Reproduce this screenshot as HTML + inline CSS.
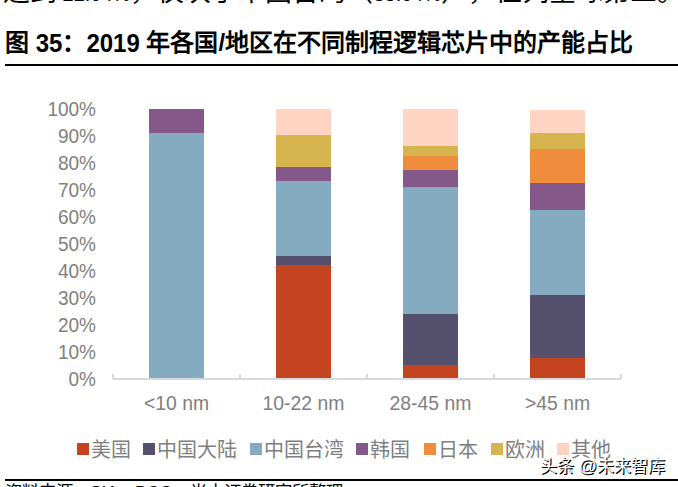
<!DOCTYPE html>
<html lang="zh-CN"><head><meta charset="utf-8">
<style>
html,body{margin:0;padding:0;background:#fff;}
body{width:678px;height:487px;position:relative;overflow:hidden;font-family:"Liberation Sans",sans-serif;}
.a{position:absolute;}
.top{left:3px;top:-21px;font-size:27px;color:#000;white-space:nowrap;line-height:26px;text-spacing-trim:space-all;}
.n{font-size:20px;}
.d{display:inline-block;transform:scaleY(1.1);transform-origin:50% 55%;}
.title{left:5px;top:27.6px;font-size:24px;font-weight:bold;color:#000;white-space:nowrap;line-height:30px;}
.rule{left:5px;width:673px;height:2px;background:#000;}
.yl{right:582px;font-size:19px;color:#7f7f7f;line-height:20px;text-align:right;white-space:nowrap;transform:scaleY(1.1);transform-origin:50% 50%;}
.xl{width:127px;font-size:19.4px;color:#7f7f7f;line-height:22px;text-align:center;white-space:nowrap;transform:scaleY(1.07);transform-origin:50% 50%;}
.b{width:55px;}
.us{background:#c4441f}
.cn{background:#56506f}
.tw{background:#84abbf}
.kr{background:#85588a}
.jp{background:#f08d3c}
.eu{background:#d6b54f}
.ot{background:#ffd4c3}
.axis{left:113px;top:378px;width:508px;height:2px;background:#d9d9d9;}
.tick{top:374px;width:2px;height:5px;background:#d9d9d9;}
.lg{top:443px;width:12px;height:12px;}
.lt{top:438px;font-size:20px;color:#7f7f7f;line-height:24px;white-space:nowrap;}
.wm{left:540px;top:455px;font-size:17px;color:#fff;line-height:22px;white-space:nowrap;text-shadow:1px 1px 0 #000,0.5px 1px 0 #000,0 0 2px #fff,0 0 2px #fff,0 0 3px #fff;}
.src{left:5px;top:480px;font-size:17.4px;color:#000;line-height:24px;white-space:nowrap;}
</style></head><body>
<div class="a top">达到<span class="n"> 22.04%</span>，仅次于中国台湾（<span class="n">38.04%</span>），位列全球第三。</div>
<div class="a title">图 <span class="d">35</span>：<span class="d">2019</span> 年各国/地区在不同制程逻辑芯片中的产能占比</div>
<div class="a rule" style="top:64px"></div>

<div class="a yl" style="top:99px">100%</div>
<div class="a yl" style="top:126px">90%</div>
<div class="a yl" style="top:153px">80%</div>
<div class="a yl" style="top:180px">70%</div>
<div class="a yl" style="top:207px">60%</div>
<div class="a yl" style="top:234px">50%</div>
<div class="a yl" style="top:261px">40%</div>
<div class="a yl" style="top:288px">30%</div>
<div class="a yl" style="top:315px">20%</div>
<div class="a yl" style="top:342px">10%</div>
<div class="a yl" style="top:369px">0%</div>

<!-- bar 1 -->
<div class="a b tw" style="left:149px;top:133px;height:246px"></div>
<div class="a b kr" style="left:149px;top:109px;height:24px"></div>
<!-- bar 2 -->
<div class="a b us" style="left:276px;top:265px;height:114px"></div>
<div class="a b cn" style="left:276px;top:256px;height:9px"></div>
<div class="a b tw" style="left:276px;top:181px;height:75px"></div>
<div class="a b kr" style="left:276px;top:167px;height:14px"></div>
<div class="a b eu" style="left:276px;top:135px;height:32px"></div>
<div class="a b ot" style="left:276px;top:109px;height:26px"></div>
<!-- bar 3 -->
<div class="a b us" style="left:403px;top:365px;height:14px"></div>
<div class="a b cn" style="left:403px;top:314px;height:51px"></div>
<div class="a b tw" style="left:403px;top:187px;height:127px"></div>
<div class="a b kr" style="left:403px;top:170px;height:17px"></div>
<div class="a b jp" style="left:403px;top:156px;height:14px"></div>
<div class="a b eu" style="left:403px;top:146px;height:10px"></div>
<div class="a b ot" style="left:403px;top:109px;height:37px"></div>
<!-- bar 4 -->
<div class="a b us" style="left:530px;top:358px;height:21px"></div>
<div class="a b cn" style="left:530px;top:295px;height:63px"></div>
<div class="a b tw" style="left:530px;top:210px;height:85px"></div>
<div class="a b kr" style="left:530px;top:183px;height:27px"></div>
<div class="a b jp" style="left:530px;top:149px;height:34px"></div>
<div class="a b eu" style="left:530px;top:133px;height:16px"></div>
<div class="a b ot" style="left:530px;top:110px;height:23px"></div>

<div class="a axis"></div>
<div class="a tick" style="left:112px"></div>
<div class="a tick" style="left:239px"></div>
<div class="a tick" style="left:366px"></div>
<div class="a tick" style="left:493px"></div>
<div class="a tick" style="left:620px"></div>

<div class="a xl" style="left:113px;top:392px">&lt;10 nm</div>
<div class="a xl" style="left:240px;top:392px">10-22 nm</div>
<div class="a xl" style="left:367px;top:392px">28-45 nm</div>
<div class="a xl" style="left:494px;top:392px">&gt;45 nm</div>

<div class="a lg us" style="left:77px"></div><div class="a lt" style="left:91px">美国</div>
<div class="a lg cn" style="left:143px"></div><div class="a lt" style="left:157px">中国大陆</div>
<div class="a lg tw" style="left:250px"></div><div class="a lt" style="left:264px">中国台湾</div>
<div class="a lg kr" style="left:356px"></div><div class="a lt" style="left:370px">韩国</div>
<div class="a lg jp" style="left:424px"></div><div class="a lt" style="left:438px">日本</div>
<div class="a lg eu" style="left:491px"></div><div class="a lt" style="left:505px">欧洲</div>
<div class="a lg ot" style="left:557px"></div><div class="a lt" style="left:571px">其他</div>

<div class="a wm">头条 <span style="font-size:18px">@</span>未来智库</div>
<div class="a rule" style="top:479px"></div>
<div class="a src">资料来源：SIA，BCG，光大证券研究所整理</div>
</body></html>
